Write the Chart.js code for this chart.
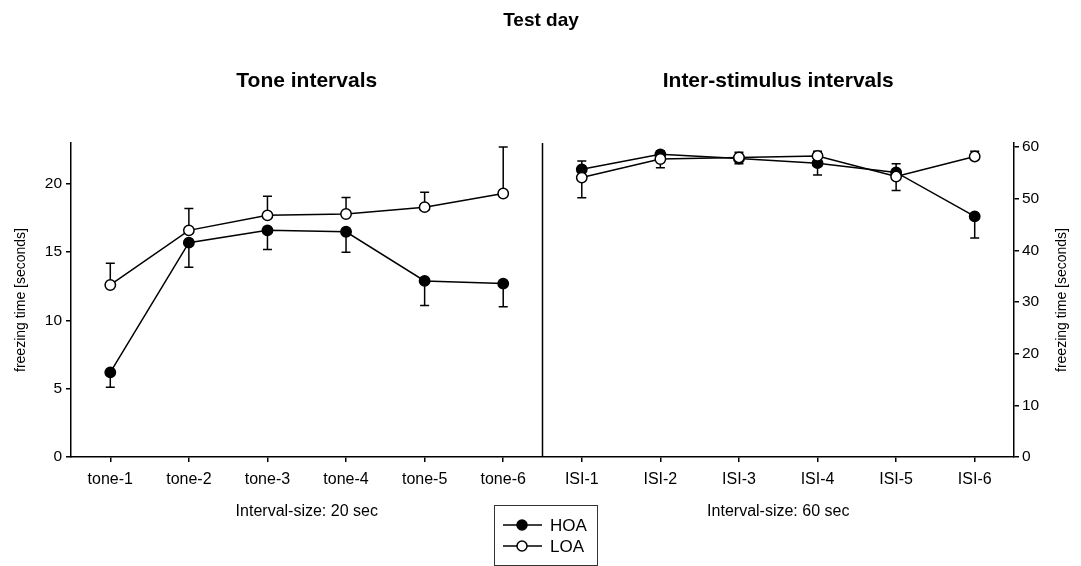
<!DOCTYPE html>
<html>
<head>
<meta charset="utf-8">
<script src="https://cdn.jsdelivr.net/npm/chart.js@4.4.1/dist/chart.umd.min.js"></script>
<style>
  html, body { margin: 0; padding: 0; background: #fff; }
  canvas { display: block; }
</style>
</head>
<body>
<canvas id="c" width="1081" height="566"></canvas>
<script>
// Category labels for the two panels
const toneLabels = ['tone-1', 'tone-2', 'tone-3', 'tone-4', 'tone-5', 'tone-6'];
const isiLabels = ['ISI-1', 'ISI-2', 'ISI-3', 'ISI-4', 'ISI-5', 'ISI-6'];

// Freezing time during tone intervals (left axis, seconds)
const hoaTone = [6.2, 15.7, 16.6, 16.5, 12.9, 12.7];
const loaTone = [12.6, 16.6, 17.7, 17.8, 18.3, 19.3];
// Error-bar end values for the tone intervals
const hoaToneErr = [5.1, 13.9, 15.2, 15.0, 11.1, 11.0];
const loaToneErr = [14.2, 18.2, 19.1, 19.0, 19.4, 22.7];

// Freezing time during inter-stimulus intervals (right axis, seconds)
const hoaIsi = [55.7, 58.6, 57.8, 56.9, 55.1, 46.6];
const loaIsi = [54.1, 57.7, 58.0, 58.3, 54.3, 58.2];
// Error-bar end values for the inter-stimulus intervals
const hoaIsiErr = [57.3, 59.3, 56.8, 54.6, 56.8, 42.4];
const loaIsiErr = [50.2, 56.0, 59.0, 59.2, 51.6, 59.2];

// Axis ranges and ticks
const leftMax = 23, leftStep = 5;
const rightMax = 60.8, rightStep = 10;

const FONT = '"Liberation Sans", Arial, Helvetica, sans-serif';
const pad = (arr, before) => before ? Array(6).fill(null).concat(arr) : arr.concat(Array(6).fill(null));

function series(label, values, errEnd, filled, axis, isRight, order) {
  return {
    label: label,
    data: pad(values, isRight),
    errorEnd: pad(errEnd, isRight),
    yAxisID: axis,
    borderColor: '#000',
    borderWidth: 1.5,
    pointRadius: 5.2,
    pointHoverRadius: 5.2,
    pointBorderWidth: 1.5,
    pointBorderColor: '#000',
    pointBackgroundColor: filled ? '#000' : '#fff',
    backgroundColor: filled ? '#000' : '#fff',
    fill: false,
    tension: 0,
    spanGaps: false,
    order: order,
    legendShown: !isRight
  };
}

// Error bars, drawn behind the markers
const errorBars = {
  id: 'errorBars',
  beforeDatasetsDraw(chart) {
    const ctx = chart.ctx;
    const x = chart.scales.x;
    ctx.save();
    ctx.strokeStyle = '#000';
    ctx.lineWidth = 1.5;
    chart.data.datasets.forEach(ds => {
      const y = chart.scales[ds.yAxisID];
      ds.data.forEach((v, i) => {
        if (v === null) return;
        const e = ds.errorEnd[i];
        const px = x.getPixelForValue(i);
        const py = y.getPixelForValue(v);
        const pe = y.getPixelForValue(e);
        ctx.beginPath();
        ctx.moveTo(px, py);
        ctx.lineTo(px, pe);
        ctx.moveTo(px - 4.5, pe);
        ctx.lineTo(px + 4.5, pe);
        ctx.stroke();
      });
    });
    ctx.restore();
  }
};

// Titles, panel divider, captions, right axis title and legend box
const decorations = {
  id: 'decorations',
  afterDraw(chart) {
    const ctx = chart.ctx;
    const a = chart.chartArea;
    const x = chart.scales.x;
    const mid = (x.getPixelForValue(5) + x.getPixelForValue(6)) / 2;
    const leftC = (a.left + mid) / 2;
    const rightC = (mid + a.right) / 2;
    ctx.save();

    // divider between the two panels
    ctx.strokeStyle = '#000';
    ctx.lineWidth = 1.5;
    ctx.beginPath();
    ctx.moveTo(mid, a.top);
    ctx.lineTo(mid, a.bottom);
    ctx.stroke();

    ctx.fillStyle = '#000';
    ctx.textAlign = 'center';
    ctx.textBaseline = 'middle';
    ctx.font = 'bold 19px ' + FONT;
    ctx.fillText('Test day', 541, 21);
    ctx.font = 'bold 21px ' + FONT;
    ctx.fillText('Tone intervals', leftC, 81);
    ctx.fillText('Inter-stimulus intervals', rightC, 81);

    ctx.font = '16px ' + FONT;
    ctx.fillText('Interval-size: 20 sec', leftC, 512);
    ctx.fillText('Interval-size: 60 sec', rightC, 512);

    // right axis title, reading bottom to top
    ctx.save();
    ctx.translate(1062, (a.top + a.bottom) / 2);
    ctx.rotate(-Math.PI / 2);
    ctx.font = '14px ' + FONT;
    ctx.fillText('freezing time [seconds]', 0, 0);
    ctx.restore();

    // legend
    const bx = 494, by = 505, bw = 103, bh = 60;
    ctx.lineWidth = 1;
    ctx.strokeStyle = '#333';
    ctx.strokeRect(bx + 0.5, by + 0.5, bw, bh);
    const shown = chart.data.datasets.filter(d => d.legendShown);
    shown.forEach((d, k) => {
      const ly = 525 + k * 21;
      ctx.strokeStyle = '#000';
      ctx.lineWidth = 1.5;
      ctx.beginPath();
      ctx.moveTo(503, ly);
      ctx.lineTo(542, ly);
      ctx.stroke();
      ctx.beginPath();
      ctx.arc(522, ly, 5, 0, Math.PI * 2);
      ctx.fillStyle = d.pointBackgroundColor;
      ctx.fill();
      ctx.stroke();
      ctx.fillStyle = '#000';
      ctx.textAlign = 'left';
      ctx.font = '17px ' + FONT;
      ctx.fillText(d.label, 550, ly + 1);
    });
    ctx.restore();
  }
};

const xTickFont = { family: FONT, size: 16 };
const yTickFont = { family: FONT, size: 15.5 };

new Chart(document.getElementById('c'), {
  type: 'line',
  data: {
    labels: toneLabels.concat(isiLabels),
    datasets: [
      series('HOA', hoaTone, hoaToneErr, true, 'y', false, 2),
      series('LOA', loaTone, loaToneErr, false, 'y', false, 1),
      series('HOA', hoaIsi, hoaIsiErr, true, 'y2', true, 2),
      series('LOA', loaIsi, loaIsiErr, false, 'y2', true, 1)
    ]
  },
  options: {
    responsive: false,
    animation: false,
    devicePixelRatio: 1,
    layout: { padding: { top: 143, left: 0, right: 0, bottom: 0 } },
    plugins: {
      legend: { display: false },
      title: { display: false },
      tooltip: { enabled: false }
    },
    scales: {
      x: {
        type: 'category',
        offset: true,
        grid: { display: true, drawOnChartArea: false, drawTicks: true, tickLength: 5, color: '#000', lineWidth: 1.5, offset: false },
        border: { display: true, color: '#000', width: 1.5 },
        ticks: { color: '#000', font: xTickFont, padding: 8, maxRotation: 0, autoSkip: false },
        afterFit(s) { s.height = 566 - 457; }
      },
      y: {
        position: 'left',
        min: 0,
        max: leftMax,
        grid: { display: true, drawOnChartArea: false, drawTicks: true, tickLength: 5, color: '#000', lineWidth: 1.5 },
        border: { display: true, color: '#000', width: 1.5 },
        ticks: { stepSize: leftStep, includeBounds: false, color: '#000', font: yTickFont, padding: 4 },
        title: { display: true, text: 'freezing time [seconds]', color: '#000', font: { family: FONT, size: 14 }, padding: { top: 13, bottom: 0 } },
        afterFit(s) { s.width = 71; }
      },
      y2: {
        position: 'right',
        min: 0,
        max: rightMax,
        grid: { display: true, drawOnChartArea: false, drawTicks: true, tickLength: 5, color: '#000', lineWidth: 1.5 },
        border: { display: true, color: '#000', width: 1.5 },
        ticks: { stepSize: rightStep, includeBounds: false, color: '#000', font: yTickFont, padding: 3 },
        afterFit(s) { s.width = 1081 - 1014; }
      }
    }
  },
  plugins: [errorBars, decorations]
});
</script>
</body>
</html>
